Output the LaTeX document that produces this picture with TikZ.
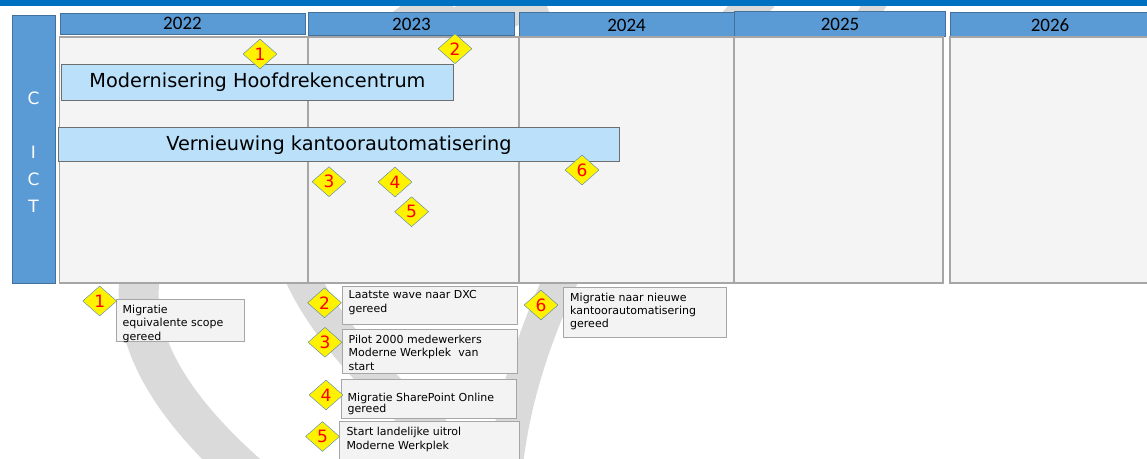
\documentclass[tikz,border=0pt]{standalone}
\usepackage{fontspec}
\setmainfont{DejaVu Sans}
\newfontfamily\yearfont{Carlito}
\usetikzlibrary{shapes.geometric}
\definecolor{topblue}{RGB}{0,112,192}
\definecolor{headblue}{RGB}{91,155,213}
\definecolor{headline}{RGB}{65,113,156}
\definecolor{colgrey}{RGB}{244,244,244}
\definecolor{colline}{RGB}{166,166,166}
\definecolor{barblue}{RGB}{186,224,250}
\definecolor{barline}{RGB}{110,110,110}
\definecolor{milline}{RGB}{79,129,189}
\definecolor{leggrey}{RGB}{243,243,243}
\definecolor{wmgrey}{RGB}{218,218,218}

\begin{document}
\begin{tikzpicture}[x = 1pt, y = -1pt,
year_head/.style = { draw = headline, fill = headblue, line width = 0.8pt, inner sep = 0pt, font = \yearfont\fontsize{19}{19}\selectfont},
col_box/.style = { draw = colline, fill = colgrey, line width = 1.6pt, inner sep = 0pt, minimum height = 246pt},
proj_bar/.style = { draw = barline, fill = barblue, line width = 0.8pt, inner sep = 0pt, font = \fontsize{19.3}{19.3}\selectfont},
mile/.style = { diamond, draw = milline, fill = yellow, text = red, inner sep = 0pt, minimum width = 34pt, minimum height = 30pt, font = \fontsize{17}{17}\selectfont},
legend_box/.style = { draw = colline, fill = leggrey, line width = 0.8pt, anchor = north west, inner sep = 0pt},
legend_txt/.style = { anchor = north west, inner sep = 0pt, align = left, font = \fontsize{11}{13.4}\selectfont},
watermark/.style = { draw = wmgrey, line width = 34pt}]
\useasboundingbox (0,0) rectangle (1147,458);
\draw[watermark, line width = 40pt] (543,-5) .. controls (195,120) and (5,260) .. (248,475);
\draw[watermark] (445,-5) .. controls (250,130) and (200,250) .. (480,470);
\draw[watermark] (762,-5) .. controls (640,120) and (520,300) .. (505,475);
\draw[watermark, line width = 22pt] (880,-5) .. controls (860,30) and (840,60) .. (800,110);
\fill[topblue] (0,0) rectangle (1147,5.7);

\node[year_head, minimum width = 43pt, minimum height = 268pt] (ict) at (33.5,149) {};
\node[text = white, align = center, font = \fontsize{17}{27}\selectfont] (ict_txt) at (33.5,152.5) {C\\[27pt]I\\C\\T};

\node[year_head, minimum width = 245pt, minimum height = 21pt] (y22) at (182.5,23.5) {2022};
\node[year_head, minimum width = 206pt, minimum height = 23pt] (y23) at (411.5,24.2) {2023};
\node[year_head, minimum width = 215pt, minimum height = 24.5pt] (y24) at (626.5,25) {2024};
\node[year_head, minimum width = 211pt, minimum height = 25pt] (y25) at (840,24.2) {2025};
\node[year_head, minimum width = 200pt, minimum height = 24.5pt] (y26) at (1050,25) {2026};

\node[col_box, minimum width = 248pt] (c22) at (183.6,160.2) {};
\node[col_box, minimum width = 210pt] (c23) at (413.3,160.2) {};
\node[col_box, minimum width = 215pt] (c24) at (626.5,160.2) {};
\node[col_box, minimum width = 209pt] (c25) at (838.5,160.2) {};
\node[col_box, minimum width = 205pt] (c26) at (1052.5,160.2) {};

\node[proj_bar, minimum width = 392pt, minimum height = 35.7pt] (hdc) at (257.5,82.2) {Modernisering Hoofdrekencentrum};
\node[proj_bar, minimum width = 561pt, minimum height = 34pt] (vka) at (339,144.8) {Vernieuwing kantoorautomatisering};

\node[mile] (m1) at (260,54) {1};
\node[mile] (m2) at (455,48.7) {2};
\node[mile] (m3) at (329,181.7) {3};
\node[mile] (m4) at (395,182) {4};
\node[mile] (m5) at (411.6,211.7) {5};
\node[mile] (m6) at (582,170) {6};

\node[legend_box, minimum width = 128pt, minimum height = 42pt] (lb1) at (115.5,299) {};
\node[legend_box, minimum width = 175pt, minimum height = 38.5pt] (lb2) at (341.5,285.5) {};
\node[legend_box, minimum width = 175pt, minimum height = 44pt] (lb3) at (341.5,329) {};
\node[legend_box, minimum width = 175pt, minimum height = 39.5pt] (lb4) at (340.5,378.5) {};
\node[legend_box, minimum width = 179.5pt, minimum height = 50pt] (lb5) at (339.3,421.3) {};
\node[legend_box, minimum width = 163pt, minimum height = 50pt] (lb6) at (563,287) {};

\node[legend_txt] (lt1) at ([xshift = 7pt, yshift = -6pt]lb1.north west) {Migratie\\equivalente scope\\gereed};
\node[legend_txt] (lt2) at ([xshift = 7pt, yshift = -5pt]lb2.north west) {Laatste wave naar DXC\\gereed};
\node[legend_txt] (lt3) at ([xshift = 7pt, yshift = -6pt]lb3.north west) {Pilot 2000 medewerkers\\Moderne Werkplek~ van\\start};
\node[legend_txt] (lt4) at ([xshift = 7pt, yshift = -14pt]lb4.north west) {Migratie SharePoint Online\\[-2.4pt]gereed};
\node[legend_txt] (lt5) at ([xshift = 7pt, yshift = -6pt]lb5.north west) {Start landelijke uitrol\\Moderne Werkplek};
\node[legend_txt] (lt6) at ([xshift = 7pt, yshift = -5.5pt]lb6.north west) {Migratie naar nieuwe\\kantoorautomatisering\\gereed};

\node[mile] (n1) at (99.7,301) {1};
\node[mile] (n2) at (324.5,302.8) {2};
\node[mile] (n3) at (325,342.3) {3};
\node[mile] (n4) at (326,395) {4};
\node[mile] (n5) at (322.5,436.5) {5};
\node[mile] (n6) at (541,305) {6};
\end{tikzpicture}
\end{document}
